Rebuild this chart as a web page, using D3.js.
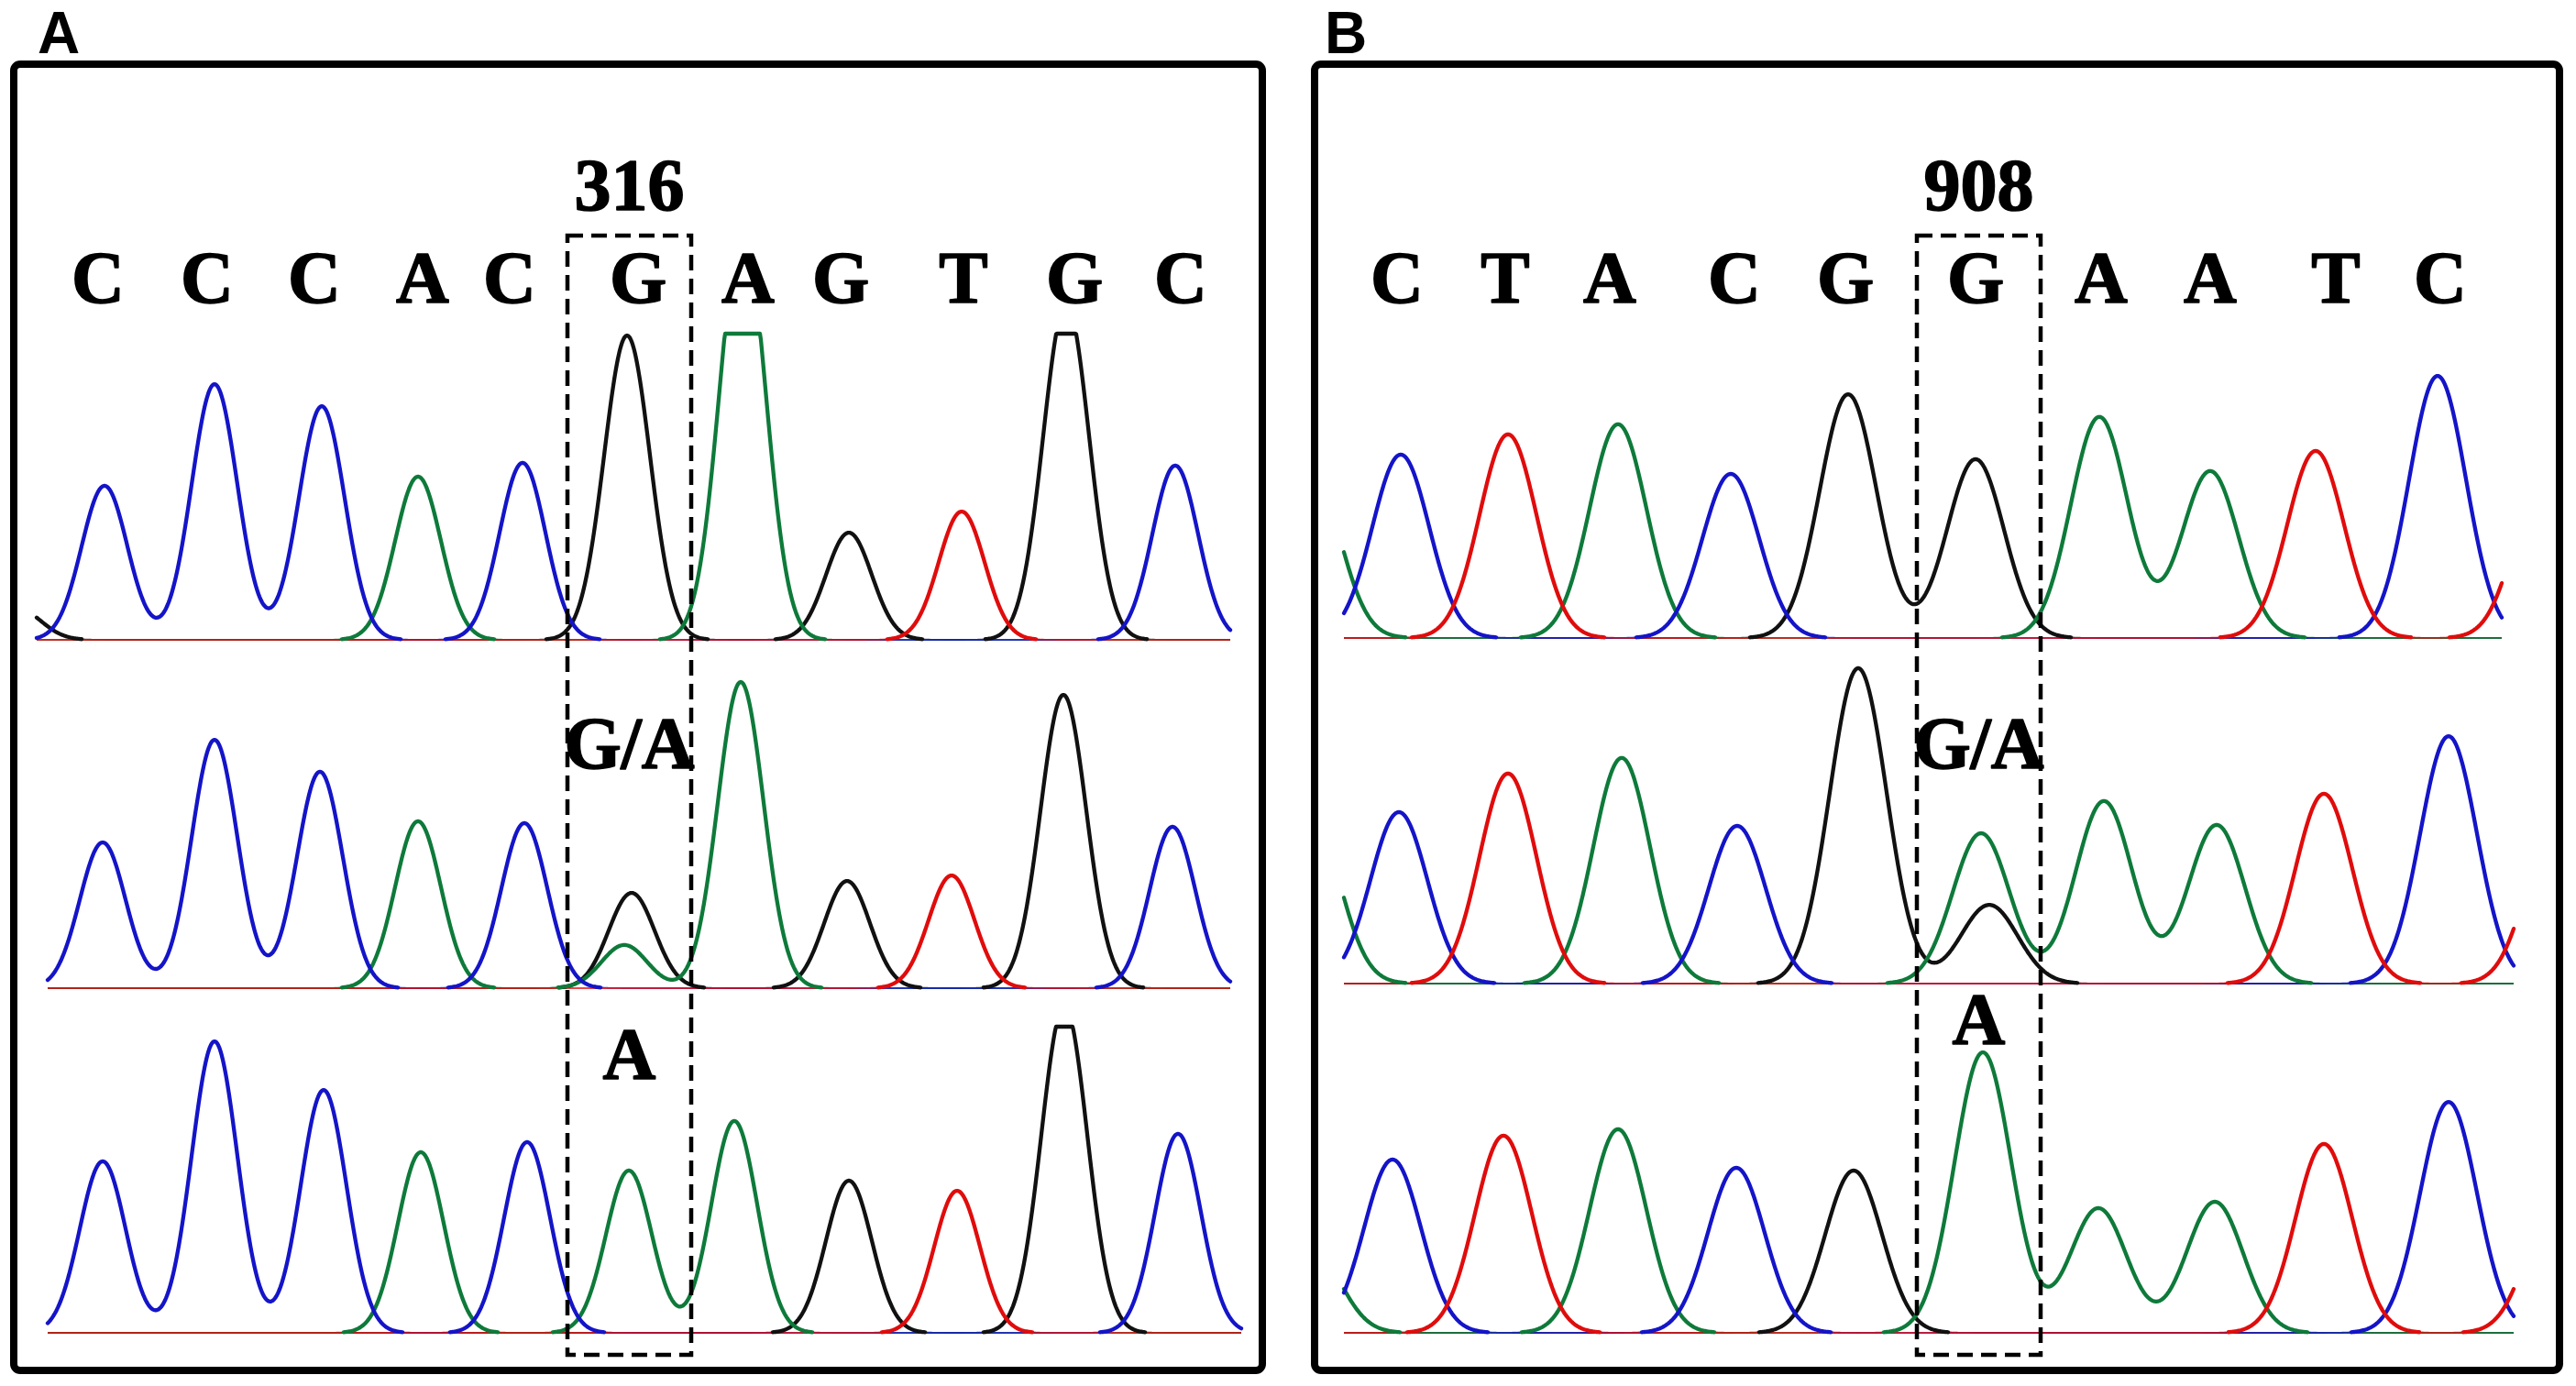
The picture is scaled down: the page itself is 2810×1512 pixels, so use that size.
<!DOCTYPE html>
<html><head><meta charset="utf-8">
<script src="https://cdn.jsdelivr.net/npm/d3@7"></script>
<style>html,body{margin:0;padding:0;background:#fff;}svg{display:block;}</style>
</head><body><svg id="chart"></svg>
<script>
// ---------------- DATA ----------------
const panelLabels = ["A", "B"];
const siteLabels = ["316", "908"];
const rowCalls = [["G/A", "A"], ["G/A", "A"]];

// base calls (top sequence) and their trace positions (scan units)
const seqA = ["C","C","C","A","C","G","A","G","T","G","C"];
const seqAPos = [92,211,328,446,541,681,801,902,1036,1157,1273];
const seqB = ["C","T","A","C","G","G","A","A","T","C"];
const seqBPos = [90,208,322,458,579,721,858,977,1114,1228];

// mutation site window (scan units)
const siteA = [604, 739];
const siteB = [657, 792];

// Panel A peaks: base, position (scan), intensity
const basesA1 = ["G","C","C","C","A","C","G","A","G","T","G","C"];
const posA1   = [5,99,219,336,441,555,669,795,911,1034,1148,1267];
const hA1     = [100,503,835,763,533,578,994,1350,350,419,1100,569];

const basesA2 = ["C","C","C","A","C","G","A","A","G","T","G","C"];
const posA2   = [97,219,334,441,557,674,666,793,909,1023,1145,1264];
const hA2     = [476,811,707,545,539,311,141,1000,350,368,958,527];

const basesA3 = ["C","C","C","A","C","A","A","G","T","G","C"];
const posA3   = [97,219,338,444,560,671,786,911,1029,1146,1270];
const hA3     = [560,952,793,590,623,530,692,497,464,1070,650];

// Panel B peaks
const basesB1 = ["A","C","T","A","C","G","G","A","A","T","C","T"];
const posB1   = [-4,94,211,331,454,582,721,856,977,1092,1225,1341];
const hB1     = [551,599,665,698,536,796,584,722,545,611,856,539];

const basesB2 = ["A","C","T","A","C","G","A","G","A","A","T","C","T"];
const posB2   = [-4,92,211,335,461,593,727,736,861,984,1101,1237,1354];
const hB2     = [551,560,686,737,515,1030,491,257,596,518,620,808,539];

const basesB3 = ["A","C","T","A","C","G","A","A","A","T","C","T"];
const posB3   = [-4,85,206,331,460,588,729,855,982,1101,1237,1354];
const hB3     = [282,566,644,665,539,530,916,407,428,617,754,431];

// ---------------- LAYOUT / STYLE ----------------
const W = 2810, H = 1512;
const colors = { C: "#1414c8", A: "#0e7a3a", G: "#111111", T: "#e00c0c" };
const drawOrder = ["G", "A", "C", "T"];

const panels = [
  { label: panelLabels[0], site: siteLabels[0], calls: rowCalls[0], seq: seqA, seqPos: seqAPos, box: siteA,
    frame: [15, 1377], labelX: 41, sigma: 25, clip: 1000,
    baselines: [698, 1078, 1454], callBaselines: [838, 1177],
    ranges: [[25, 1327], [37, 1327], [37, 1339]],
    rows: [[basesA1, posA1, hA1], [basesA2, posA2, hA2], [basesA3, posA3, hA3]] },
  { label: panelLabels[1], site: siteLabels[1], calls: rowCalls[1], seq: seqB, seqPos: seqBPos, box: siteB,
    frame: [1434, 2792], labelX: 1445, sigma: 31, clip: 1200,
    baselines: [696, 1073, 1454], callBaselines: [838, 1139],
    ranges: [[32, 1295], [32, 1308], [32, 1308]],
    rows: [[basesB1, posB1, hB1], [basesB2, posB2, hB2], [basesB3, posB3, hB3]] }
];

const svg = d3.select("#chart").attr("width", W).attr("height", H).attr("viewBox", `0 0 ${W} ${H}`);
svg.append("rect").attr("width", W).attr("height", H).attr("fill", "#fff");

const serif = "'Liberation Serif', 'Times New Roman', serif";
const sans = "'Liberation Sans', Arial, sans-serif";

function serifText(sel) {
  return sel.attr("text-anchor", "middle").attr("font-family", serif).attr("font-weight", "bold")
    .attr("font-size", 80).attr("fill", "#000").attr("stroke", "#000").attr("stroke-width", 1.6)
    .attr("stroke-linejoin", "round");
}

panels.forEach(p => {
  const g = svg.append("g");
  const x = d3.scaleLinear().domain([0, p.frame[1] - p.frame[0]]).range(p.frame);

  // panel label
  g.append("text").attr("x", p.labelX).attr("y", 58)
    .attr("font-family", sans).attr("font-weight", "bold").attr("font-size", 64)
    .attr("fill", "#000").text(p.label);

  // frame
  g.append("rect").attr("x", p.frame[0]).attr("y", 70)
    .attr("width", p.frame[1] - p.frame[0]).attr("height", 1425)
    .attr("rx", 7).attr("ry", 7)
    .attr("fill", "none").attr("stroke", "#000").attr("stroke-width", 8);

  // site number
  serifText(g.append("text").attr("x", x((p.box[0] + p.box[1]) / 2)).attr("y", 229)).text(p.site);

  // sequence letters
  serifText(g.selectAll("text.base").data(p.seq).join("text").attr("class", "base")
    .attr("x", (d, i) => x(p.seqPos[i])).attr("y", 330)).text(d => d);

  // traces
  p.rows.forEach((row, ri) => {
    const [bases, pos, hts] = row;
    const base = p.baselines[ri];
    const y = d3.scaleLinear().domain([0, 1000]).range([base, base - 334]);
    const [x0, x1] = p.ranges[ri];
    const samples = d3.range(x0, x1 + 0.5, 1);
    const rg = g.append("g");
    const traces = {};
    drawOrder.forEach(b => {
      traces[b] = samples.map(s => {
        let v = 0;
        bases.forEach((bb, k) => {
          if (bb === b) { const d = s - pos[k]; v += hts[k] * Math.exp(-d * d / (2 * p.sigma * p.sigma)); }
        });
        return { s, v: Math.min(v, p.clip) };
      });
    });
    // thin baseline layer
    drawOrder.forEach(b => {
      rg.append("path").datum(traces[b])
        .attr("d", d3.line().x(d => x(d.s)).y(d => y(d.v)))
        .attr("fill", "none").attr("stroke", colors[b]).attr("stroke-width", 1.8).attr("opacity", 0.75);
    });
    // thick peak layer
    drawOrder.forEach(b => {
      rg.append("path").datum(traces[b])
        .attr("d", d3.line().defined(d => d.v > 2).x(d => x(d.s)).y(d => y(d.v)))
        .attr("fill", "none").attr("stroke", colors[b]).attr("stroke-width", 4.3)
        .attr("stroke-linejoin", "round").attr("stroke-linecap", "round");
    });
  });

  // row call labels
  p.calls.forEach((c, i) => {
    serifText(g.append("text").attr("x", x((p.box[0] + p.box[1]) / 2)).attr("y", p.callBaselines[i])).text(c);
  });

  // dashed site box
  g.append("rect").attr("x", x(p.box[0])).attr("y", 257)
    .attr("width", x(p.box[1]) - x(p.box[0])).attr("height", 1478 - 257)
    .attr("fill", "none").attr("stroke", "#000").attr("stroke-width", 4.5)
    .attr("stroke-dasharray", "17,9");
});
</script>
</body></html>
